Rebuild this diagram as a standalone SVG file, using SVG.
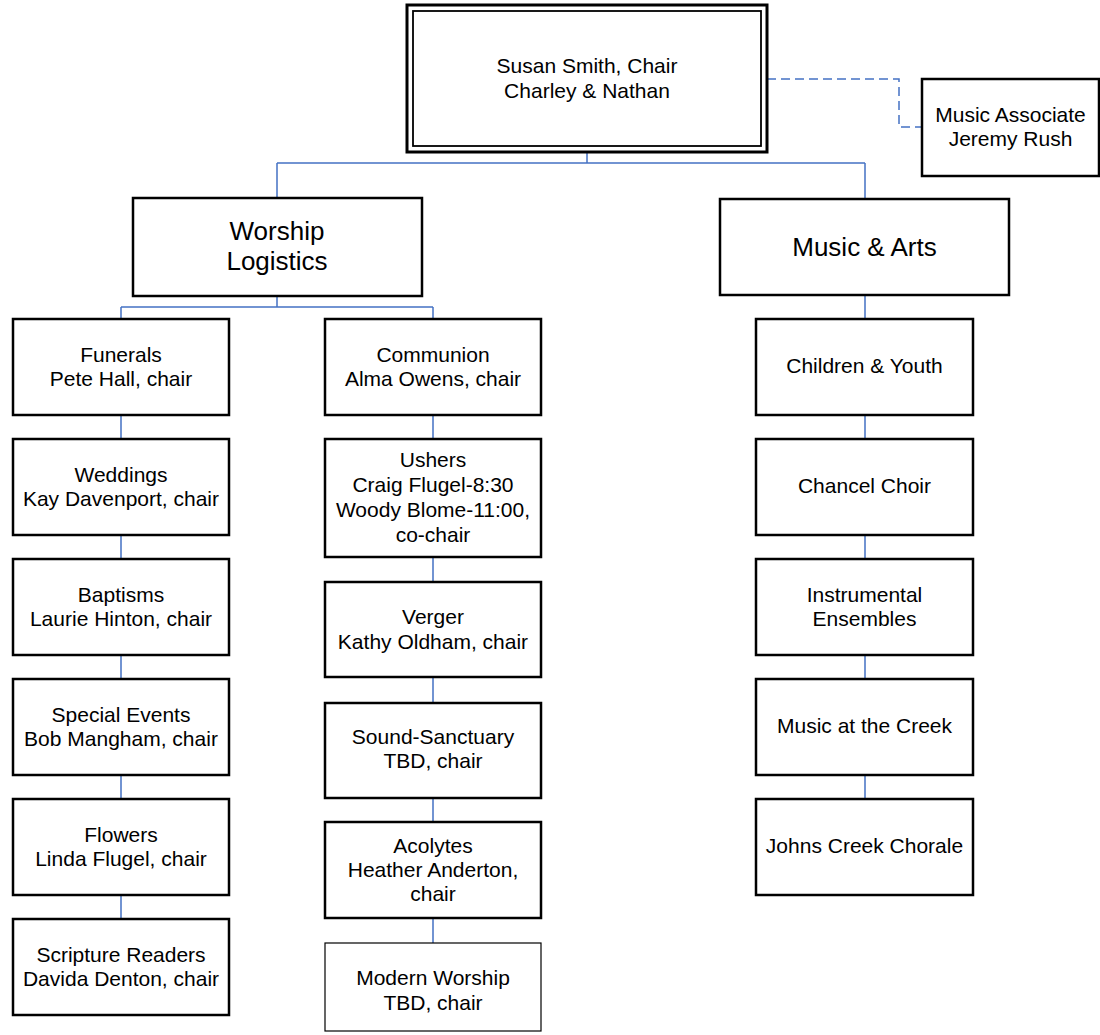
<svg xmlns="http://www.w3.org/2000/svg" width="1100" height="1035" viewBox="0 0 1100 1035">
<style>
.box{fill:#fff;stroke:#000;stroke-width:2.5}
.thin{fill:#fff;stroke:#000;stroke-width:1.2}
.con{fill:none;stroke:#4472C4;stroke-width:1.5}
.dash{fill:none;stroke:#4472C4;stroke-width:1.5;stroke-dasharray:9,5}
text{font-family:"Liberation Sans",Arial,sans-serif;font-size:21px;fill:#000;text-anchor:middle}
.big{font-size:26px}
</style>
<rect width="1100" height="1035" fill="#fff"/>
<g id="connectors">
<path class="con" d="M587,152V163M277,163H865M277,163V198M865,163V199"/>
<path class="dash" d="M767,79H899V127H922"/>
<path class="con" d="M277,296V307M121,307H433M121,307V319M433,307V319"/>
<path class="con" d="M121,415V439M121,535V559M121,655V679M121,775V799M121,895V919"/>
<path class="con" d="M433,415V439M433,557V582M433,677V703M433,798V822M433,918V943"/>
<path class="con" d="M865,295V319M865,415V439M865,535V559M865,655V679M865,775V799"/>
</g>
<g id="chair">
<rect x="407" y="5" width="360" height="147" fill="#fff" stroke="#000" stroke-width="3"/>
<rect x="413" y="11" width="348" height="135" fill="none" stroke="#000" stroke-width="1.8"/>
<text x="587" y="73">Susan Smith, Chair</text>
<text x="587" y="98">Charley &amp; Nathan</text>
</g>
<g id="music-associate">
<rect class="box" x="922" y="79" width="177" height="97"/>
<text x="1010.5" y="122">Music Associate</text>
<text x="1010.5" y="146">Jeremy Rush</text>
</g>
<g id="worship-logistics">
<rect class="box" x="133" y="198" width="289" height="98"/>
<text class="big" x="277" y="240">Worship</text>
<text class="big" x="277" y="270">Logistics</text>
</g>
<g id="music-arts">
<rect class="box" x="720" y="199" width="289" height="96"/>
<text class="big" x="864.5" y="256">Music &amp; Arts</text>
</g>
<g id="funerals">
<rect class="box" x="13" y="319" width="216" height="96"/>
<text x="121" y="362">Funerals</text>
<text x="121" y="386">Pete Hall, chair</text>
</g>
<g id="weddings">
<rect class="box" x="13" y="439" width="216" height="96"/>
<text x="121" y="482">Weddings</text>
<text x="121" y="506">Kay Davenport, chair</text>
</g>
<g id="baptisms">
<rect class="box" x="13" y="559" width="216" height="96"/>
<text x="121" y="602">Baptisms</text>
<text x="121" y="626">Laurie Hinton, chair</text>
</g>
<g id="special-events">
<rect class="box" x="13" y="679" width="216" height="96"/>
<text x="121" y="722">Special Events</text>
<text x="121" y="746">Bob Mangham, chair</text>
</g>
<g id="flowers">
<rect class="box" x="13" y="799" width="216" height="96"/>
<text x="121" y="842">Flowers</text>
<text x="121" y="866">Linda Flugel, chair</text>
</g>
<g id="scripture-readers">
<rect class="box" x="13" y="919" width="216" height="96"/>
<text x="121" y="962">Scripture Readers</text>
<text x="121" y="986">Davida Denton, chair</text>
</g>
<g id="communion">
<rect class="box" x="325" y="319" width="216" height="96"/>
<text x="433" y="362">Communion</text>
<text x="433" y="386">Alma Owens, chair</text>
</g>
<g id="ushers">
<rect class="box" x="325" y="439" width="216" height="118"/>
<text x="433" y="467">Ushers</text>
<text x="433" y="492">Craig Flugel-8:30</text>
<text x="433" y="517">Woody Blome-11:00,</text>
<text x="433" y="542">co-chair</text>
</g>
<g id="verger">
<rect class="box" x="325" y="582" width="216" height="95"/>
<text x="433" y="624">Verger</text>
<text x="433" y="649">Kathy Oldham, chair</text>
</g>
<g id="sound-sanctuary">
<rect class="box" x="325" y="703" width="216" height="95"/>
<text x="433" y="744">Sound-Sanctuary</text>
<text x="433" y="768">TBD, chair</text>
</g>
<g id="acolytes">
<rect class="box" x="325" y="822" width="216" height="96"/>
<text x="433" y="853">Acolytes</text>
<text x="433" y="877">Heather Anderton,</text>
<text x="433" y="901">chair</text>
</g>
<g id="modern-worship">
<rect class="thin" x="325" y="943" width="216" height="88"/>
<text x="433" y="985">Modern Worship</text>
<text x="433" y="1010">TBD, chair</text>
</g>
<g id="children-youth">
<rect class="box" x="756" y="319" width="217" height="96"/>
<text x="864.5" y="373">Children &amp; Youth</text>
</g>
<g id="chancel-choir">
<rect class="box" x="756" y="439" width="217" height="96"/>
<text x="864.5" y="493">Chancel Choir</text>
</g>
<g id="instrumental-ensembles">
<rect class="box" x="756" y="559" width="217" height="96"/>
<text x="864.5" y="602">Instrumental</text>
<text x="864.5" y="626">Ensembles</text>
</g>
<g id="music-at-the-creek">
<rect class="box" x="756" y="679" width="217" height="96"/>
<text x="864.5" y="733">Music at the Creek</text>
</g>
<g id="johns-creek-chorale">
<rect class="box" x="756" y="799" width="217" height="96"/>
<text x="864.5" y="853">Johns Creek Chorale</text>
</g>
</svg>
